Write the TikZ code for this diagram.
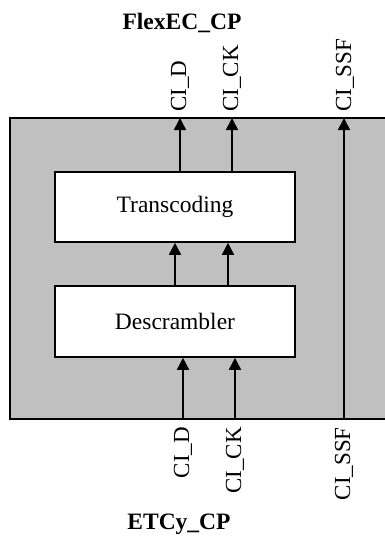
\documentclass[tikz,border=0pt]{standalone}
\usepackage{fontspec}
\setmainfont{Liberation Serif}
\usetikzlibrary{arrows.meta}
\definecolor{panelgray}{RGB}{192,192,192}
\tikzset{
  blockbox/.style={draw=black, fill=white, line width=1.6pt, minimum width=240pt, minimum height=70pt, inner sep=0pt, font=\fontsize{23.5}{26}\selectfont},
  sig/.style={line width=1.6pt, -{Triangle[length=12pt,width=12pt]}},
  toplabel/.style={rotate=90, anchor=west, inner sep=0pt, font=\fontsize{23}{26}\selectfont},
  botlabel/.style={rotate=90, anchor=east, inner sep=0pt, font=\fontsize{23}{26}\selectfont},
  titlelabel/.style={anchor=base, inner sep=0pt, font=\fontsize{23.5}{26}\selectfont\bfseries}
}
\begin{document}
\begin{tikzpicture}[x=1pt,y=-1pt]
\useasboundingbox (0,0) rectangle (384,536);
% panel
\fill[panelgray] (10,118) rectangle (386,419);
\draw[line width=1.6pt] (386,118) -- (10,118) -- (10,419) -- (386,419);
% blocks
\node[blockbox] (trans) at (175,207) {Transcoding};
\node[blockbox, minimum height=71pt] (desc) at (175,321.5) {Descrambler};
% coordinates on panel edges
\coordinate (tD) at (180,118);
\coordinate (tCK) at (232,118);
\coordinate (tSSF) at (344,118);
\coordinate (bD) at (183,419);
\coordinate (bCK) at (235,419);
\coordinate (bSSF) at (344,419);
% connectors
\draw[sig] (trans.north -| tD) -- (tD);
\draw[sig] (trans.north -| tCK) -- (tCK);
\draw[sig] (bSSF) -- (tSSF);
\draw[sig] (desc.north -| 175,0) -- (trans.south -| 175,0);
\draw[sig] (desc.north -| 228,0) -- (trans.south -| 228,0);
\draw[sig] (bD) -- (desc.south -| bD);
\draw[sig] (bCK) -- (desc.south -| bCK);
% labels
\node[toplabel] (ltD) at (180,112) {CI\_D};
\node[toplabel] (ltCK) at (232,112) {CI\_CK};
\node[toplabel] (ltSSF) at (345,112) {CI\_SSF};
\node[botlabel] (lbD) at (183,427) {CI\_D};
\node[botlabel] (lbCK) at (235,427) {CI\_CK};
\node[botlabel] (lbSSF) at (344,427) {CI\_SSF};
% titles
\node[titlelabel] (top) at (182,29) {FlexEC\_CP};
\node[titlelabel] (bot) at (179,529) {ETCy\_CP};
\end{tikzpicture}
\end{document}
